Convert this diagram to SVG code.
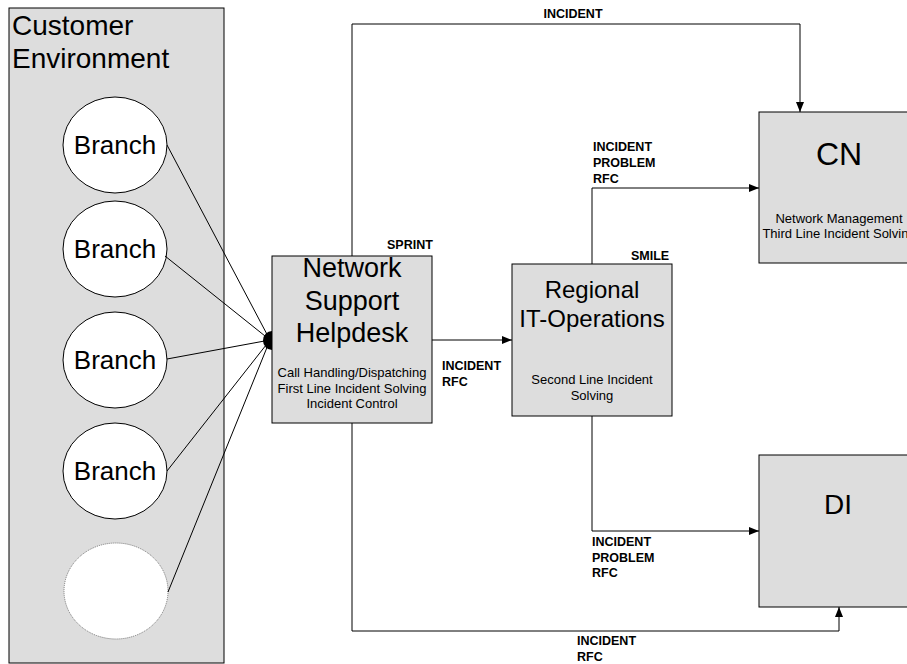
<svg xmlns="http://www.w3.org/2000/svg" width="907" height="664" viewBox="0 0 907 664">
<style>
.box{fill:#dddddd;stroke:#000;stroke-width:1}
.br{fill:#fff;stroke:#000;stroke-width:1}
.ln{fill:none;stroke:#000;stroke-width:1}
.big{font-family:"Liberation Sans",Arial,sans-serif;font-size:26px;fill:#000}
.sm{font-family:"Liberation Sans",Arial,sans-serif;font-size:13px;fill:#000}
.lb{font-family:"Liberation Sans",Arial,sans-serif;font-size:12.5px;font-weight:bold;fill:#000}
</style>
<defs>
<marker id="ah" viewBox="0 0 10 10" refX="10" refY="5" markerWidth="10" markerHeight="10" markerUnits="userSpaceOnUse" orient="auto">
<path d="M0,1 L10,5 L0,9 Z" fill="#000"/>
</marker>
</defs>
<rect width="907" height="664" fill="#fff"/>
<g id="customer-environment">
<rect class="box" x="9" y="8" width="215" height="655"/>
<text class="big" x="12" y="35" style="font-size:28px">Customer</text>
<text class="big" x="12" y="68" style="font-size:28px">Environment</text>
</g>
<g id="branch1"><ellipse class="br" cx="115" cy="145" rx="52" ry="48"/><text class="big" x="115" y="154" text-anchor="middle">Branch</text></g>
<g id="branch2"><ellipse class="br" cx="115" cy="249" rx="52" ry="48"/><text class="big" x="115" y="258" text-anchor="middle">Branch</text></g>
<g id="branch3"><ellipse class="br" cx="115" cy="360" rx="52" ry="48"/><text class="big" x="115" y="369" text-anchor="middle">Branch</text></g>
<g id="branch4"><ellipse class="br" cx="115" cy="471" rx="52" ry="48"/><text class="big" x="115" y="480" text-anchor="middle">Branch</text></g>
<g id="branch5"><ellipse cx="116" cy="591" rx="52" ry="48" fill="#fff" stroke="#777" stroke-width="1" stroke-dasharray="1,1"/></g>
<g id="connectors">
<line class="ln" x1="167" y1="145" x2="270" y2="340"/>
<line class="ln" x1="165" y1="256" x2="270" y2="340"/>
<line class="ln" x1="167" y1="359" x2="270" y2="340"/>
<line class="ln" x1="167" y1="471" x2="270" y2="340"/>
<line class="ln" x1="168" y1="592" x2="270" y2="340"/>
<path d="M272,331 A9,9.5 0 0 0 272,350 Z" fill="#000"/>
<polyline class="ln" points="352,256 352,24 800,24 800,112" marker-end="url(#ah)"/>
<line class="ln" x1="432" y1="340" x2="512" y2="340" marker-end="url(#ah)"/>
<polyline class="ln" points="592,264 592,188 759,188" marker-end="url(#ah)"/>
<polyline class="ln" points="592,416 592,531 759,531" marker-end="url(#ah)"/>
<polyline class="ln" points="352,423 352,631 839,631 839,607" marker-end="url(#ah)"/>
<text class="lb" x="573" y="18" text-anchor="middle">INCIDENT</text>
<text class="lb" x="387" y="249">SPRINT</text>
<text class="lb" x="631" y="260">SMILE</text>
<text class="lb" x="442" y="370">INCIDENT</text>
<text class="lb" x="442" y="386">RFC</text>
<text class="lb" x="593" y="151">INCIDENT</text>
<text class="lb" x="593" y="167">PROBLEM</text>
<text class="lb" x="593" y="183">RFC</text>
<text class="lb" x="592" y="546">INCIDENT</text>
<text class="lb" x="592" y="562">PROBLEM</text>
<text class="lb" x="592" y="577">RFC</text>
<text class="lb" x="577" y="645">INCIDENT</text>
<text class="lb" x="577" y="661">RFC</text>
</g>
<g id="network-support-helpdesk">
<rect class="box" x="272" y="256" width="160" height="167"/>
<text class="big" x="352" y="277" text-anchor="middle" style="font-size:27px">Network</text>
<text class="big" x="352" y="310" text-anchor="middle" style="font-size:27px">Support</text>
<text class="big" x="352" y="342" text-anchor="middle" style="font-size:27px">Helpdesk</text>
<text class="sm" x="352" y="377" text-anchor="middle">Call Handling/Dispatching</text>
<text class="sm" x="352" y="393" text-anchor="middle">First Line Incident Solving</text>
<text class="sm" x="352" y="408" text-anchor="middle">Incident Control</text>
</g>
<g id="regional-it-operations">
<rect class="box" x="512" y="264" width="160" height="152"/>
<text class="big" x="592" y="298" text-anchor="middle" style="font-size:24px">Regional</text>
<text class="big" x="592" y="327" text-anchor="middle" style="font-size:24px">IT-Operations</text>
<text class="sm" x="592" y="384" text-anchor="middle">Second Line Incident</text>
<text class="sm" x="592" y="400" text-anchor="middle">Solving</text>
</g>
<g id="cn">
<rect class="box" x="759" y="112" width="160" height="151"/>
<text class="big" x="839" y="165" text-anchor="middle" style="font-size:32px">CN</text>
<text class="sm" x="839" y="223" text-anchor="middle">Network Management</text>
<text class="sm" x="839" y="238" text-anchor="middle">Third Line Incident Solving</text>
</g>
<g id="di">
<rect class="box" x="759" y="455" width="160" height="152"/>
<text class="big" x="838" y="514" text-anchor="middle" style="font-size:28px">DI</text>
</g>
</svg>
